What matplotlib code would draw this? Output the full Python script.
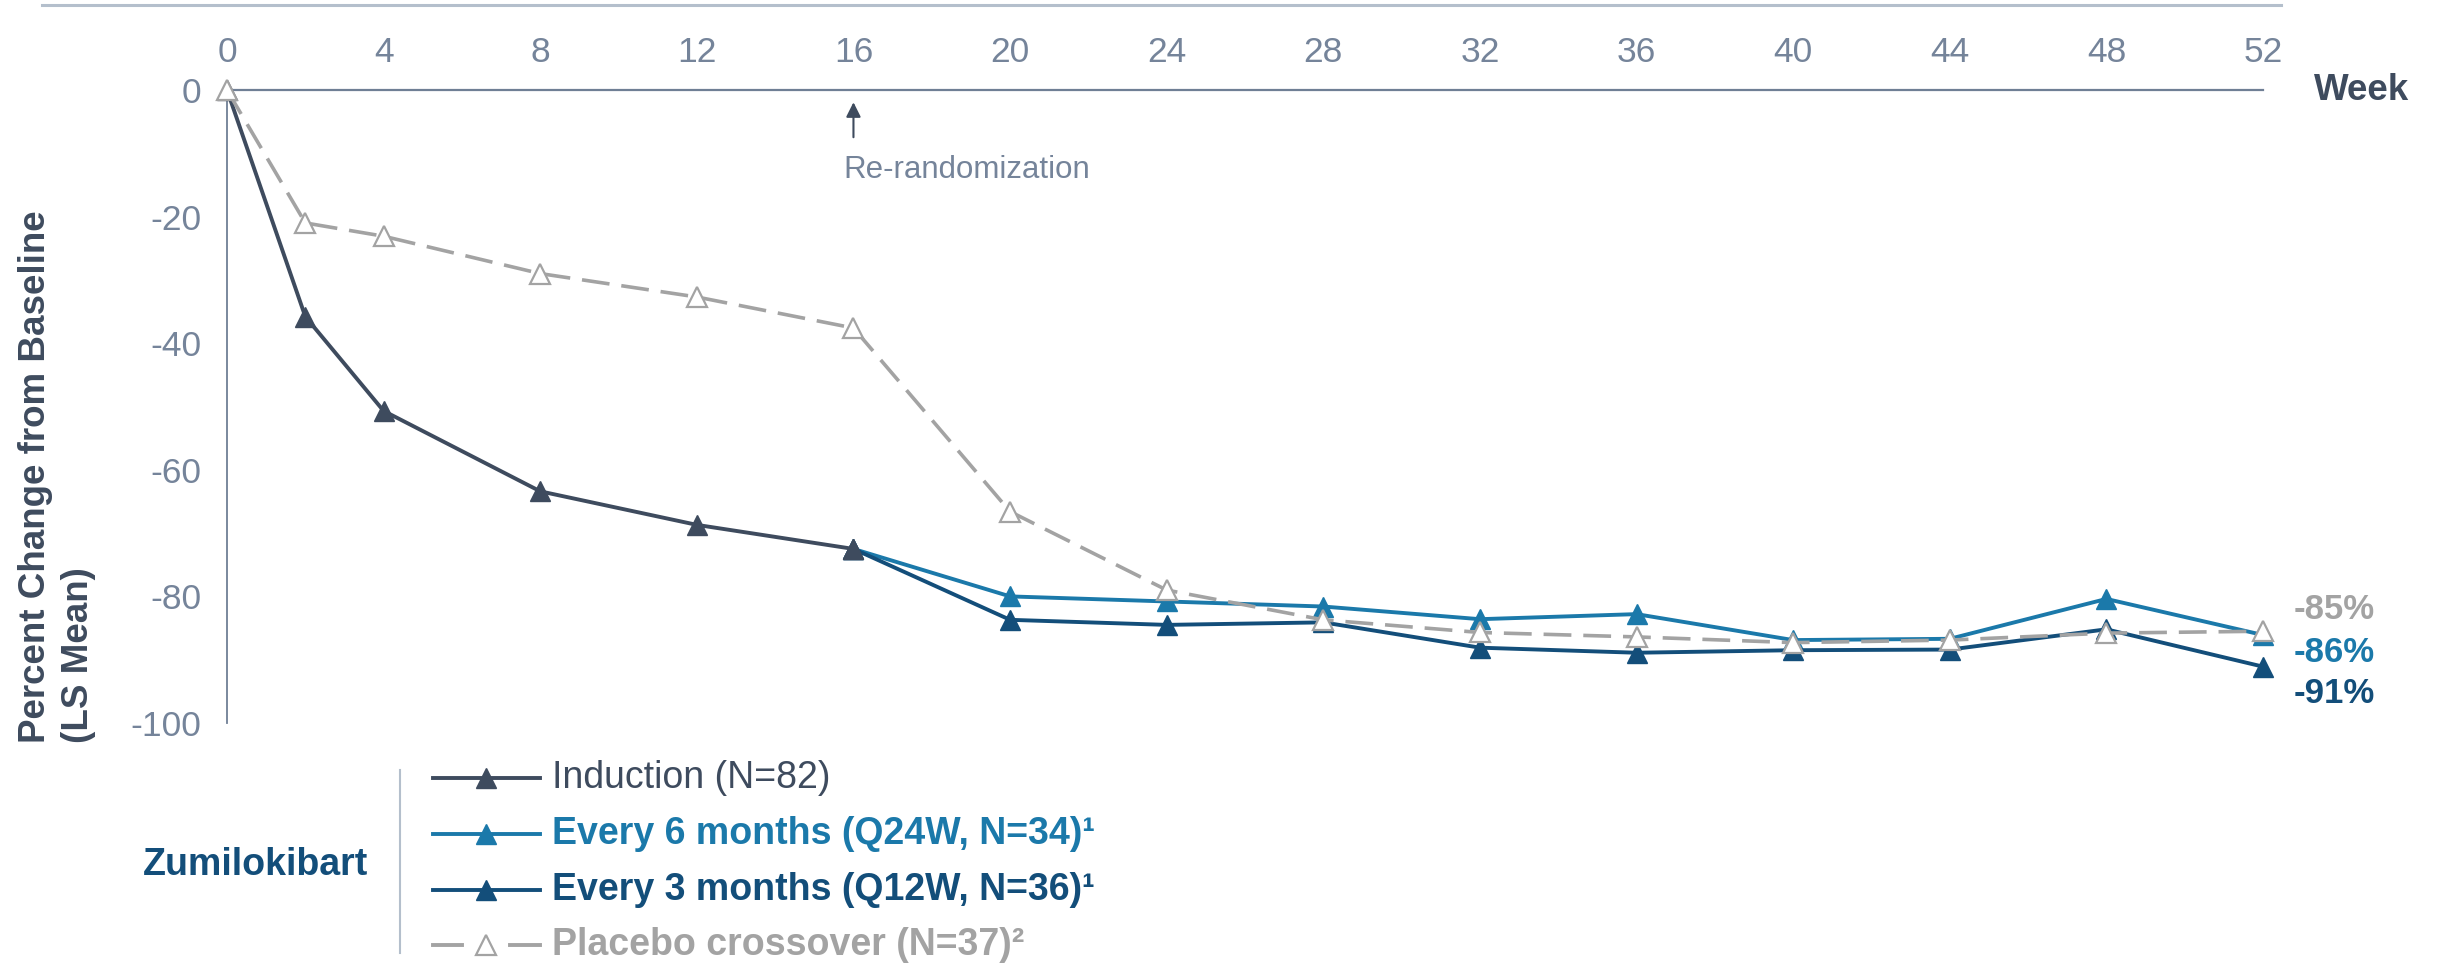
import matplotlib
matplotlib.use("Agg")
import matplotlib.pyplot as plt
from matplotlib.lines import Line2D

plt.rcParams['font.family'] = ['Liberation Sans', 'DejaVu Sans']
plt.rcParams['axes.unicode_minus'] = False

# datos
weeks_ind = [0, 2, 4, 8, 12, 16]
induction = [0, -35.8, -50.7, -63.4, -68.7, -72.5]

weeks_maint = [16, 20, 24, 28, 32, 36, 40, 44, 48, 52]
q24w = [-72.5, -80.0, -80.8, -81.6, -83.6, -82.8, -86.9, -86.7, -80.4, -86.1]
q12w = [-72.5, -83.7, -84.5, -84.1, -88.1, -88.9, -88.5, -88.4, -85.2, -91.1]

weeks_pbo = [0, 2, 4, 8, 12, 16, 20, 24, 28, 32, 36, 40, 44, 48, 52]
placebo = [0, -21.0, -23.1, -29.0, -32.7, -37.6, -66.6, -79.0, -83.7, -85.7,
           -86.4, -87.3, -86.9, -85.8, -85.5]

xticks = [0, 4, 8, 12, 16, 20, 24, 28, 32, 36, 40, 44, 48, 52]
yticks = [0, -20, -40, -60, -80, -100]

end_labels = ['-85%', '-86%', '-91%']

c_ind = '#3e4b5e'
c_q24 = '#1b79aa'
c_q12 = '#134e7a'
c_pbo = '#a3a3a3'
c_tick = '#75849a'
c_axis = '#6f7f95'

W, H = 2443, 967
fig = plt.figure(figsize=(W / 100, H / 100), dpi=100)

ax = fig.add_axes([227 / W, 1 - 723 / H, (2263 - 227) / W, (723 - 90) / H])

ms = 14.5
lw = 2.8
ax.plot(weeks_ind, induction, '-^', color=c_ind, lw=lw, ms=ms, zorder=4, clip_on=False)
ax.plot(weeks_maint, q24w, '-^', color=c_q24, lw=lw, ms=ms, zorder=3, clip_on=False)
ax.plot(weeks_maint, q12w, '-^', color=c_q12, lw=lw, ms=ms, zorder=3, clip_on=False)
ax.plot(weeks_pbo, placebo, '--^', color=c_pbo, lw=2.6, ms=ms, mfc='white',
        mec=c_pbo, mew=1.6, dashes=(7.7, 3.3), zorder=5, clip_on=False)
# marcador de induccion encima en la semana 16
ax.plot(weeks_ind[-1:], induction[-1:], '^', color=c_ind, ms=ms, zorder=6, clip_on=False)

ax.set_xlim(0, 52)
ax.set_ylim(-100, 0)
ax.set_xticks(xticks)
ax.set_yticks(yticks)
ax.xaxis.tick_top()
ax.tick_params(axis='x', length=0, pad=15, labelsize=25.5, colors=c_tick)
ax.tick_params(axis='y', length=0, pad=18.5, labelsize=25.5, colors=c_tick)
for s in ['bottom', 'right']:
    ax.spines[s].set_visible(False)
ax.spines['top'].set_color(c_axis)
ax.spines['top'].set_linewidth(1.6)
ax.spines['left'].set_color(c_axis)
ax.spines['left'].set_linewidth(1.3)

# etiquetas finales
lab_y = [-82.1, -88.8, -95.3]
lab_c = [c_pbo, c_q24, c_q12]
for t, yy, cc in zip(end_labels, lab_y, lab_c):
    ax.text(52.77, yy, t, color=cc, fontsize=25, fontweight='bold',
            va='center', ha='left', clip_on=False)

# re-aleatorizacion
ax.annotate('', xy=(16, -1.5), xytext=(16, -7.9),
            arrowprops=dict(arrowstyle='-|>', color=c_ind, lw=1.5, mutation_scale=22))
ax.text(15.75, -12.6, 'Re-randomization', color=c_tick, fontsize=22.5,
        ha='left', va='center')

ax.text(53.3, 0, 'Week', color=c_ind, fontsize=26.5, fontweight='bold',
        ha='left', va='center', clip_on=False)

# eje de coordenadas en pixeles para decoraciones
ov = fig.add_axes([0, 0, 1, 1])
ov.set_xlim(0, W)
ov.set_ylim(H, 0)
ov.axis('off')
ov.patch.set_alpha(0)

ov.plot([42, 2281], [5, 5], color='#b4bfcc', lw=2.2)

ov.text(45, 743, 'Percent Change from Baseline', rotation=90, rotation_mode='anchor',
        color=c_ind, fontsize=26.5, fontweight='bold', ha='left', va='baseline')
ov.text(88, 743, '(LS Mean)', rotation=90, rotation_mode='anchor',
        color=c_ind, fontsize=26.5, fontweight='bold', ha='left', va='baseline')

# leyenda
ov.plot([400, 400], [770, 953], color='#b4bfcc', lw=1.5)
ov.text(256, 865, 'Zumilokibart', color=c_q12, fontsize=27, fontweight='bold',
        ha='center', va='center')

rows = [778, 834, 890, 945]
for yy, cc in zip(rows[:3], [c_ind, c_q24, c_q12]):
    ov.add_line(Line2D([433, 540], [yy, yy], color=cc, lw=lw))
    ov.plot([486], [yy], '^', color=cc, ms=ms)
ov.add_line(Line2D([433, 462], [rows[3]] * 2, color=c_pbo, lw=lw))
ov.add_line(Line2D([510, 540], [rows[3]] * 2, color=c_pbo, lw=lw))
ov.plot([486], [rows[3]], '^', color=c_pbo, mfc='white', mec=c_pbo, mew=1.6, ms=ms)

ov.text(552, rows[0], 'Induction (N=82)', color=c_ind, fontsize=27, va='center')
ov.text(552, rows[1], 'Every 6 months (Q24W, N=34)\u00b9', color=c_q24, fontsize=27,
        fontweight='bold', va='center')
ov.text(552, rows[2], 'Every 3 months (Q12W, N=36)\u00b9', color=c_q12, fontsize=27,
        fontweight='bold', va='center')
ov.text(552, rows[3], 'Placebo crossover (N=37)\u00b2', color=c_pbo, fontsize=27,
        fontweight='bold', va='center')

fig.savefig('out.png', dpi=100)
